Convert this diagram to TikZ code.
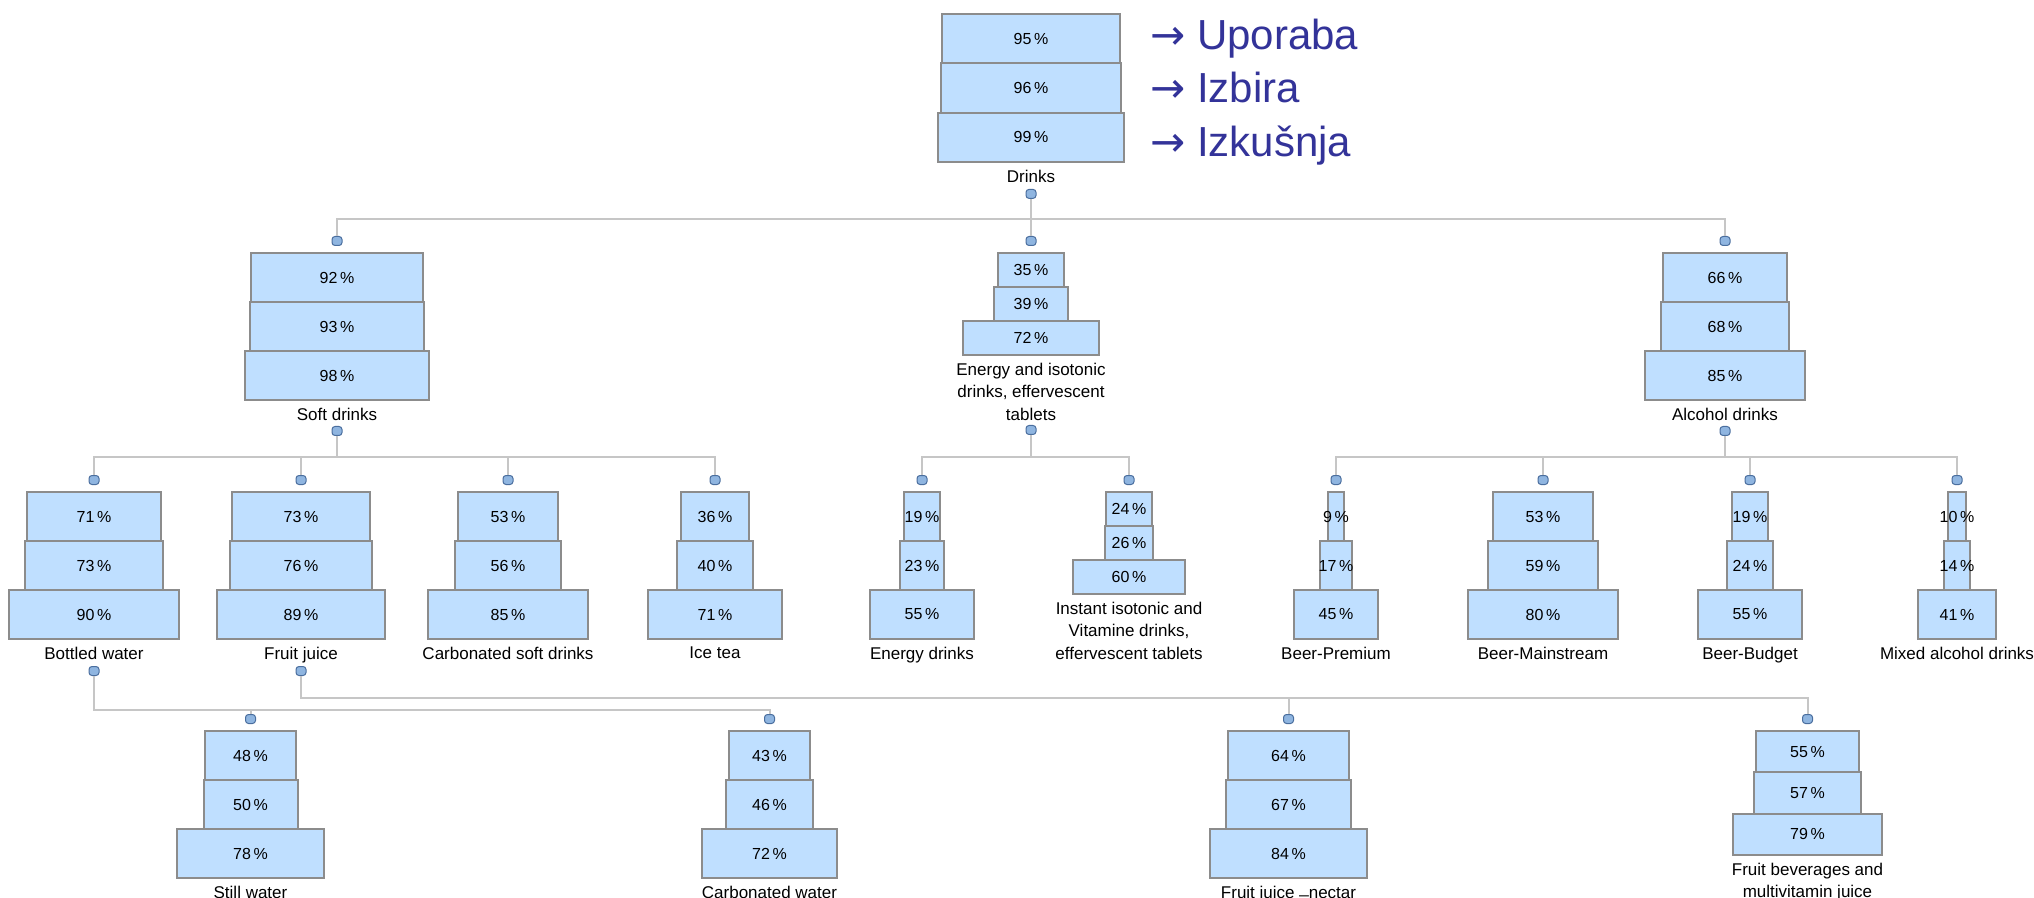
\documentclass[tikz,border=0pt]{standalone}
\usepackage{fontspec}
\setmainfont{Liberation Sans}
\newfontfamily\arrowfont{DejaVu Sans}
\usepackage{xcolor}
\usepackage{tikz}
\usetikzlibrary{calc}
\definecolor{sfill}{HTML}{BFDFFF}
\definecolor{sedge}{HTML}{8C8C8C}
\definecolor{sline}{HTML}{C6C6C6}
\definecolor{sdot}{HTML}{8FB5E0}
\definecolor{sdotedge}{HTML}{4A6E9E}
\definecolor{stitle}{HTML}{333399}
\tikzset{
  sbox/.style={rectangle, draw=sedge, fill=sfill, line width=1pt, inner sep=0pt},
  snum/.style={inner sep=0pt, font=\fontsize{8}{9}\selectfont},
  slbl/.style={inner sep=0pt, align=center, anchor=north,
               font=\fontsize{8.5}{11.25}\selectfont},
  sdotn/.style={rectangle, rounded corners=1.5pt, draw=sdotedge, fill=sdot,
                line width=0.5pt, minimum width=5pt, minimum height=4.5pt, inner sep=0pt},
  sconn/.style={draw=sline, line width=1pt},
  stxt/.style={text=stitle, anchor=base west, inner sep=0pt,
               font=\fontsize{21}{25}\selectfont},
}

\begin{document}
\begin{tikzpicture}[x=0.5pt,y=-0.5pt]

  \fill[white] (0,0) rectangle (2034,898);
  \useasboundingbox (0,0) rectangle (2034,898);

  \foreach \n/\x/\t/\h/\pa/\pb/\pc/\lab in {
      dr/1031/14/49.3/95/96/99/{Drinks},
      sd/337/253/49/92/93/98/{Soft drinks},
      ei/1031/253/34/35/39/72/{Energy and isotonic\\drinks, effervescent\\tablets},
      al/1725/253/49/66/68/85/{Alcohol drinks},
      bw/94/492/49/71/73/90/{Bottled water},
      fj/301/492/49/73/76/89/{Fruit juice},
      cs/508/492/49/53/56/85/{Carbonated soft drinks},
      it/715/492/49/36/40/71/{Ice tea},
      ed/922/492/49/19/23/55/{Energy drinks},
      ii/1129/492/34/24/26/60/{Instant isotonic and\\Vitamine drinks,\\effervescent tablets},
      bp/1336/492/49/9/17/45/{Beer-Premium},
      bm/1543/492/49/53/59/80/{Beer-Mainstream},
      bb/1750/492/49/19/24/55/{Beer-Budget},
      ma/1957/492/49/10/14/41/{Mixed alcohol drinks},
      sw/250.5/731/49/48/50/78/{Still water},
      cw/769.5/731/49/43/46/72/{Carbonated water},
      fn/1288.5/731/49/64/67/84/{Fruit juice \raisebox{0.3em}{\_}nectar},
      fb/1807.5/731/41.3/55/57/79/{Fruit beverages and\\multivitamin juice}}
  {
    \node[sbox, minimum width=\pa*0.94pt, minimum height=\h*0.5pt,
          label={[snum]center:\pa\,\%}] (\n-a) at (\x,{\t+0.5*\h}) {};
    \node[sbox, minimum width=\pb*0.94pt, minimum height=\h*0.5pt,
          label={[snum]center:\pb\,\%}] (\n-b) at (\x,{\t+1.5*\h}) {};
    \node[sbox, minimum width=\pc*0.94pt, minimum height=\h*0.5pt,
          label={[snum]center:\pc\,\%}] (\n-c) at (\x,{\t+2.5*\h}) {};
    \node[slbl] (\n-l) at ($(\n-c.south)+(0,6.5)$) {\lab};
  }

  \foreach \n in {sd,ei,al,bw,fj,cs,it,ed,ii,bp,bm,bb,ma,sw,cw,fn,fb}
    \node[sdotn] (\n-t) at ($(\n-a.north)+(0,-11)$) {};

  \foreach \n/\d/\bus in {dr/31/25, sd/30/26, ei/74/27, al/30/26, bw/31/39, fj/31/27}
  {
    \node[sdotn] (\n-d) at ($(\n-c.south)+(0,\d)$) {};
    \coordinate (\n-bus) at ($(\n-d)+(0,\bus)$);
  }

  \foreach \p/\c in {dr/sd, dr/ei, dr/al, sd/bw, sd/fj, sd/cs, sd/it, ei/ed, ei/ii,
                     al/bp, al/bm, al/bb, al/ma, bw/sw, bw/cw, fj/fn, fj/fb}
    \draw[sconn] (\p-d) -- (\p-bus) -| (\c-t);

  \node[stxt] (up) at (1150,50) {{\arrowfont →} Uporaba};
  \node[stxt] (iz) at (1150,103) {{\arrowfont →} Izbira};
  \node[stxt] (ik) at (1150,157) {{\arrowfont →} Izkušnja};

\end{tikzpicture}
\end{document}
